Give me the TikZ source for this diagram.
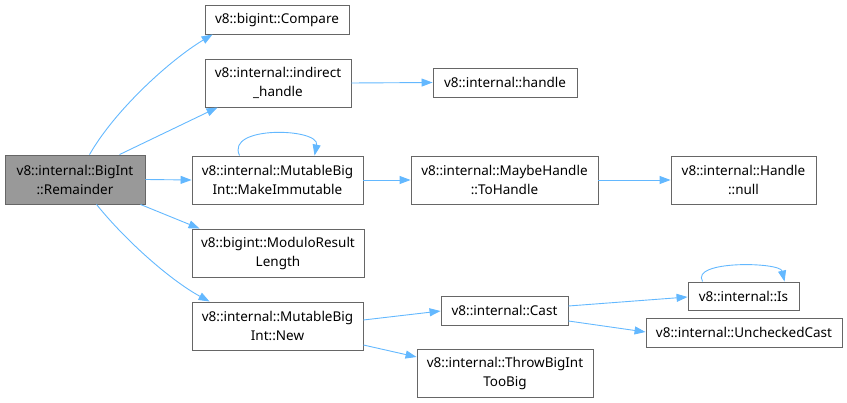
\documentclass[tikz,border=0pt]{standalone}
\usepackage{fontspec}
\setmainfont{Noto Sans}
\usetikzlibrary{arrows.meta}
\definecolor{edge}{HTML}{63B8FF}
\definecolor{bord}{HTML}{666666}
\begin{document}
\begin{tikzpicture}[x=1pt,y=-1pt,
  box/.style={draw=bord,line width=0.9pt,fill=white,inner sep=0pt,align=center,font=\fontsize{13.5}{19}\selectfont},
  arr/.style={draw=edge,line width=0.9pt,-{Triangle[length=11pt,width=8pt]}}]
\useasboundingbox (0,0) rectangle (847,403);
\node[box,fill={rgb,255:red,153;green,153;blue,153},minimum width=140pt,minimum height=49pt] (rem) at (75,179.5) {v8::internal::BigInt\\::Remainder};
\node[box,minimum width=144pt,minimum height=29pt] (cmp) at (277,19.5) {v8::bigint::Compare};
\node[box,minimum width=146pt,minimum height=48pt] (ind) at (278,83) {v8::internal::indirect\\\_handle};
\node[box,minimum width=144pt,minimum height=29pt] (hdl) at (505,82.5) {v8::internal::handle};
\node[box,minimum width=171pt,minimum height=48pt] (mki) at (277.5,180) {v8::internal::MutableBig\\Int::MakeImmutable};
\node[box,minimum width=187pt,minimum height=48pt] (toh) at (504.5,180) {v8::internal::MaybeHandle\\::ToHandle};
\node[box,minimum width=145pt,minimum height=48pt] (nul) at (743.5,180) {v8::internal::Handle\\::null};
\node[box,minimum width=172pt,minimum height=48pt] (mod) at (278,253) {v8::bigint::ModuloResult\\Length};
\node[box,minimum width=171pt,minimum height=48pt] (new) at (277.5,326) {v8::internal::MutableBig\\Int::New};
\node[box,minimum width=127pt,minimum height=29pt] (cst) at (504.5,310.5) {v8::internal::Cast};
\node[box,minimum width=176pt,minimum height=48pt] (thr) at (505,373) {v8::internal::ThrowBigInt\\TooBig};
\node[box,minimum width=111pt,minimum height=28pt] (is) at (743.5,296) {v8::internal::Is};
\node[box,minimum width=196pt,minimum height=29pt] (unc) at (744,332.5) {v8::internal::UncheckedCast};

\draw[arr] ([xshift=85pt]rem.north west) .. controls (115,110) and (170,60) .. ([xshift=8pt]cmp.south west);
\draw[arr] ([xshift=115pt]rem.north west) -- ([xshift=13pt]ind.south west);
\draw[arr] (rem.east) -- (mki.west);
\draw[arr] ([xshift=-5pt]rem.south east) -- ([xshift=8pt]mod.north west);
\draw[arr] ([xshift=92pt]rem.south west) .. controls (125,240) and (170,280) .. ([xshift=18pt]new.north west);
\draw[arr] (ind.east) -- (hdl.west);
\draw[arr] ([xshift=48pt]mki.north west) .. controls (225,125) and (320,128) .. ([xshift=123pt]mki.north west);
\draw[arr] (mki.east) -- (toh.west);
\draw[arr] (toh.east) -- (nul.west);
\draw[arr] ([yshift=6pt]new.east) -- ([yshift=-0.5pt]cst.west);
\draw[arr] ([yshift=-19pt]new.east) -- ([yshift=16pt]thr.west);
\draw[arr] ([yshift=4.5pt]cst.east) -- ([yshift=-1pt]is.west);
\draw[arr] ([yshift=-10.5pt]cst.east) -- ([yshift=0.5pt]unc.west);
\draw[arr] ([xshift=15pt]is.north west) .. controls (690,260) and (780,262) .. ([xshift=97pt]is.north west);
\end{tikzpicture}
\end{document}
